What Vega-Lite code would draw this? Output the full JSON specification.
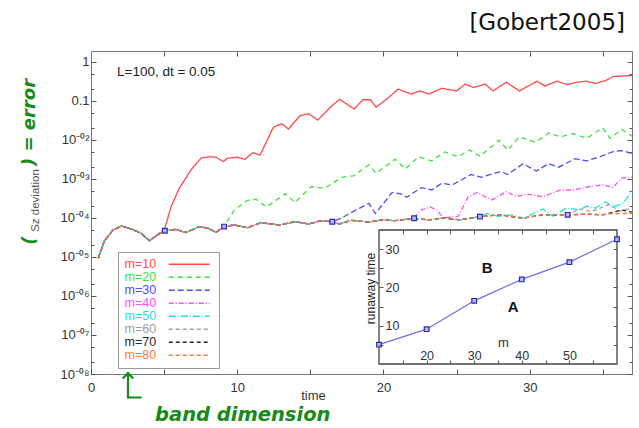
{
"$schema": "https://vega.github.io/schema/vega-lite/v6.json",
"width": 541, "height": 323,
"autosize": "none",
"padding": {"left": 91, "top": 51, "right": 7, "bottom": 54},
"background": "white",
"title": {"text": "[Gobert2005]", "anchor": "end", "frame": "group", "fontSize": 23, "font": "DejaVu Sans", "fontWeight": "normal", "color": "#111", "offset": 22, "baseline": "alphabetic", "dx": -7, "dy": 24},
"config": {
  "font": "Liberation Sans",
  "view": {"stroke": "#777", "strokeWidth": 1},
  "axis": {"tickColor": "#555", "grid": false, "domain": false, "labelFont": "Liberation Sans", "labelColor": "#333", "labelFlush": false, "labelOverlap": false}
},
"datasets": {
"runaway": [
{"m":10,"rt":5.05,"v":4.7e-5},{"m":20,"rt":9.1,"v":6.0e-5},{"m":30,"rt":16.5,"v":8.0e-5},{"m":40,"rt":22.1,"v":9.8e-5},{"m":50,"rt":26.6,"v":1.08e-4},{"m":60,"rt":32.6,"v":1.2e-4}
],
"curves": [
{"s":"m=10","t":0.5,"v":9.3e-6},{"s":"m=10","t":0.9,"v":2.5e-5},{"s":"m=10","t":1.5,"v":4.9e-5},{"s":"m=10","t":2.1,"v":6.2e-5},{"s":"m=10","t":2.75,"v":5.2e-5},{"s":"m=10","t":3.4,"v":4.1e-5},{"s":"m=10","t":4.0,"v":2.6e-5},{"s":"m=10","t":4.55,"v":3.7e-5},{"s":"m=10","t":5.0,"v":4.7e-5},
{"s":"m=10","t":5.47,"v":1.9e-4},{"s":"m=10","t":6.04,"v":5.8e-4},{"s":"m=10","t":6.84,"v":1.7e-3},{"s":"m=10","t":7.52,"v":3.4e-3},{"s":"m=10","t":8.09,"v":3.7e-3},{"s":"m=10","t":8.55,"v":3.6e-3},{"s":"m=10","t":9.05,"v":2.8e-3},{"s":"m=10","t":9.35,"v":3.4e-3},{"s":"m=10","t":10.03,"v":3.6e-3},{"s":"m=10","t":10.53,"v":3.2e-3},{"s":"m=10","t":11.06,"v":4.7e-3},{"s":"m=10","t":11.56,"v":4.1e-3},{"s":"m=10","t":12.47,"v":2.1e-2},{"s":"m=10","t":13.04,"v":2.6e-2},{"s":"m=10","t":13.5,"v":1.9e-2},{"s":"m=10","t":14.3,"v":4.2e-2},{"s":"m=10","t":14.9,"v":4.7e-2},{"s":"m=10","t":15.5,"v":3.2e-2},{"s":"m=10","t":16.35,"v":6.8e-2},{"s":"m=10","t":17.0,"v":0.11},{"s":"m=10","t":18.0,"v":6.2e-2},{"s":"m=10","t":18.6,"v":0.107},{"s":"m=10","t":19.1,"v":0.107},{"s":"m=10","t":19.5,"v":6.9e-2},{"s":"m=10","t":20.3,"v":0.117},{"s":"m=10","t":21.0,"v":0.2},{"s":"m=10","t":21.9,"v":0.15},{"s":"m=10","t":22.5,"v":0.18},{"s":"m=10","t":23.1,"v":0.15},{"s":"m=10","t":24.0,"v":0.21},{"s":"m=10","t":25.0,"v":0.18},{"s":"m=10","t":25.6,"v":0.27},{"s":"m=10","t":26.15,"v":0.22},{"s":"m=10","t":26.95,"v":0.27},{"s":"m=10","t":27.5,"v":0.18},{"s":"m=10","t":28.4,"v":0.3},{"s":"m=10","t":29.3,"v":0.18},{"s":"m=10","t":30.5,"v":0.32},{"s":"m=10","t":31.05,"v":0.24},{"s":"m=10","t":31.85,"v":0.32},{"s":"m=10","t":32.6,"v":0.26},{"s":"m=10","t":33.2,"v":0.3},{"s":"m=10","t":33.9,"v":0.32},{"s":"m=10","t":34.5,"v":0.28},{"s":"m=10","t":35.2,"v":0.33},{"s":"m=10","t":35.7,"v":0.42},{"s":"m=10","t":37.0,"v":0.45},

{"s":"m=20","t":0.5,"v":9.3e-6},{"s":"m=20","t":0.9,"v":2.5e-5},{"s":"m=20","t":1.5,"v":4.9e-5},{"s":"m=20","t":2.1,"v":6.2e-5},{"s":"m=20","t":2.75,"v":5.2e-5},{"s":"m=20","t":3.4,"v":4.1e-5},{"s":"m=20","t":4.0,"v":2.6e-5},{"s":"m=20","t":4.55,"v":3.7e-5},{"s":"m=20","t":5.0,"v":4.7e-5},{"s":"m=20","t":5.8,"v":5.1e-5},{"s":"m=20","t":6.5,"v":4.2e-5},{"s":"m=20","t":7.4,"v":6.0e-5},{"s":"m=20","t":8.0,"v":5.5e-5},{"s":"m=20","t":8.55,"v":4.3e-5},{"s":"m=20","t":9.1,"v":6.0e-5},
{"s":"m=20","t":9.8,"v":1.6e-4},{"s":"m=20","t":10.7,"v":2.8e-4},{"s":"m=20","t":11.3,"v":3.0e-4},{"s":"m=20","t":12.0,"v":1.9e-4},{"s":"m=20","t":13.3,"v":4.2e-4},{"s":"m=20","t":13.95,"v":2.5e-4},{"s":"m=20","t":15.05,"v":6.3e-4},{"s":"m=20","t":16.0,"v":5.8e-4},{"s":"m=20","t":17.15,"v":1.1e-3},{"s":"m=20","t":17.95,"v":1.2e-3},{"s":"m=20","t":19.0,"v":2.3e-3},{"s":"m=20","t":19.5,"v":1.4e-3},{"s":"m=20","t":20.8,"v":3.2e-3},{"s":"m=20","t":21.5,"v":1.8e-3},{"s":"m=20","t":22.4,"v":3.7e-3},{"s":"m=20","t":23.3,"v":2.9e-3},{"s":"m=20","t":24.2,"v":4.9e-3},{"s":"m=20","t":25.1,"v":3.7e-3},{"s":"m=20","t":25.9,"v":5.5e-3},{"s":"m=20","t":26.6,"v":3.8e-3},{"s":"m=20","t":27.9,"v":9.8e-3},{"s":"m=20","t":28.5,"v":5.5e-3},{"s":"m=20","t":29.3,"v":1.2e-2},{"s":"m=20","t":30.4,"v":8.7e-3},{"s":"m=20","t":31.3,"v":1.5e-2},{"s":"m=20","t":32.1,"v":1.2e-2},{"s":"m=20","t":33.0,"v":1.45e-2},{"s":"m=20","t":33.9,"v":1.1e-2},{"s":"m=20","t":35.0,"v":2.05e-2},{"s":"m=20","t":35.5,"v":1.1e-2},{"s":"m=20","t":36.3,"v":1.85e-2},{"s":"m=20","t":37.0,"v":1.25e-2},

{"s":"m=30","t":0.5,"v":9.3e-6},{"s":"m=30","t":0.9,"v":2.5e-5},{"s":"m=30","t":1.5,"v":4.9e-5},{"s":"m=30","t":2.1,"v":6.2e-5},{"s":"m=30","t":2.75,"v":5.2e-5},{"s":"m=30","t":3.4,"v":4.1e-5},{"s":"m=30","t":4.0,"v":2.6e-5},{"s":"m=30","t":4.55,"v":3.7e-5},{"s":"m=30","t":5.0,"v":4.7e-5},{"s":"m=30","t":5.8,"v":5.1e-5},{"s":"m=30","t":6.5,"v":4.2e-5},{"s":"m=30","t":7.4,"v":6.0e-5},{"s":"m=30","t":8.0,"v":5.5e-5},{"s":"m=30","t":8.55,"v":4.3e-5},{"s":"m=30","t":9.1,"v":6.0e-5},{"s":"m=30","t":9.8,"v":6.6e-5},{"s":"m=30","t":10.7,"v":5.6e-5},{"s":"m=30","t":11.6,"v":7.5e-5},{"s":"m=30","t":12.9,"v":6.6e-5},{"s":"m=30","t":13.95,"v":8.0e-5},{"s":"m=30","t":14.9,"v":7.0e-5},{"s":"m=30","t":15.7,"v":8.4e-5},{"s":"m=30","t":16.5,"v":8.0e-5},
{"s":"m=30","t":17.15,"v":1.0e-4},{"s":"m=30","t":18.05,"v":1.55e-4},{"s":"m=30","t":19.0,"v":2.35e-4},{"s":"m=30","t":19.45,"v":1.3e-4},{"s":"m=30","t":20.6,"v":4.5e-4},{"s":"m=30","t":21.25,"v":4.1e-4},{"s":"m=30","t":21.6,"v":3.4e-4},{"s":"m=30","t":22.6,"v":6.0e-4},{"s":"m=30","t":23.3,"v":5.2e-4},{"s":"m=30","t":24.0,"v":7.8e-4},{"s":"m=30","t":24.7,"v":7.0e-4},{"s":"m=30","t":26.0,"v":1.3e-3},{"s":"m=30","t":26.7,"v":1.1e-3},{"s":"m=30","t":28.0,"v":1.55e-3},{"s":"m=30","t":28.5,"v":1.3e-3},{"s":"m=30","t":29.55,"v":2.45e-3},{"s":"m=30","t":30.45,"v":1.6e-3},{"s":"m=30","t":31.3,"v":2.45e-3},{"s":"m=30","t":32.0,"v":2.0e-3},{"s":"m=30","t":33.1,"v":3.3e-3},{"s":"m=30","t":33.9,"v":2.9e-3},{"s":"m=30","t":34.8,"v":3.7e-3},{"s":"m=30","t":35.7,"v":5.0e-3},{"s":"m=30","t":36.3,"v":5.3e-3},{"s":"m=30","t":37.0,"v":4.5e-3},

{"s":"m=40","t":0.5,"v":9.3e-6},{"s":"m=40","t":0.9,"v":2.5e-5},{"s":"m=40","t":1.5,"v":4.9e-5},{"s":"m=40","t":2.1,"v":6.2e-5},{"s":"m=40","t":2.75,"v":5.2e-5},{"s":"m=40","t":3.4,"v":4.1e-5},{"s":"m=40","t":4.0,"v":2.6e-5},{"s":"m=40","t":4.55,"v":3.7e-5},{"s":"m=40","t":5.0,"v":4.7e-5},{"s":"m=40","t":5.8,"v":5.1e-5},{"s":"m=40","t":6.5,"v":4.2e-5},{"s":"m=40","t":7.4,"v":6.0e-5},{"s":"m=40","t":8.0,"v":5.5e-5},{"s":"m=40","t":8.55,"v":4.3e-5},{"s":"m=40","t":9.1,"v":6.0e-5},{"s":"m=40","t":9.8,"v":6.6e-5},{"s":"m=40","t":10.7,"v":5.6e-5},{"s":"m=40","t":11.6,"v":7.5e-5},{"s":"m=40","t":12.9,"v":6.6e-5},{"s":"m=40","t":13.95,"v":8.0e-5},{"s":"m=40","t":14.9,"v":7.0e-5},{"s":"m=40","t":15.7,"v":8.4e-5},{"s":"m=40","t":16.5,"v":8.0e-5},{"s":"m=40","t":17.0,"v":7.0e-5},{"s":"m=40","t":17.8,"v":8.7e-5},{"s":"m=40","t":19.0,"v":7.8e-5},{"s":"m=40","t":19.9,"v":8.9e-5},{"s":"m=40","t":20.8,"v":8.5e-5},{"s":"m=40","t":22.05,"v":9.8e-5},
{"s":"m=40","t":22.6,"v":1.6e-4},{"s":"m=40","t":23.2,"v":1.9e-4},{"s":"m=40","t":23.65,"v":1.6e-4},{"s":"m=40","t":24.1,"v":1.0e-4},{"s":"m=40","t":25.1,"v":1.1e-4},{"s":"m=40","t":25.8,"v":3.5e-4},{"s":"m=40","t":26.4,"v":4.5e-4},{"s":"m=40","t":27.4,"v":2.9e-4},{"s":"m=40","t":28.4,"v":4.7e-4},{"s":"m=40","t":29.1,"v":3.5e-4},{"s":"m=40","t":29.8,"v":4.1e-4},{"s":"m=40","t":30.9,"v":3.5e-4},{"s":"m=40","t":32.1,"v":5.2e-4},{"s":"m=40","t":33.0,"v":5.2e-4},{"s":"m=40","t":34.0,"v":6.3e-4},{"s":"m=40","t":35.0,"v":7.0e-4},{"s":"m=40","t":35.7,"v":6.1e-4},{"s":"m=40","t":36.3,"v":1.05e-3},{"s":"m=40","t":37.0,"v":1.1e-3},

{"s":"m=50","t":0.5,"v":9.3e-6},{"s":"m=50","t":0.9,"v":2.5e-5},{"s":"m=50","t":1.5,"v":4.9e-5},{"s":"m=50","t":2.1,"v":6.2e-5},{"s":"m=50","t":2.75,"v":5.2e-5},{"s":"m=50","t":3.4,"v":4.1e-5},{"s":"m=50","t":4.0,"v":2.6e-5},{"s":"m=50","t":4.55,"v":3.7e-5},{"s":"m=50","t":5.0,"v":4.7e-5},{"s":"m=50","t":5.8,"v":5.1e-5},{"s":"m=50","t":6.5,"v":4.2e-5},{"s":"m=50","t":7.4,"v":6.0e-5},{"s":"m=50","t":8.0,"v":5.5e-5},{"s":"m=50","t":8.55,"v":4.3e-5},{"s":"m=50","t":9.1,"v":6.0e-5},{"s":"m=50","t":9.8,"v":6.6e-5},{"s":"m=50","t":10.7,"v":5.6e-5},{"s":"m=50","t":11.6,"v":7.5e-5},{"s":"m=50","t":12.9,"v":6.6e-5},{"s":"m=50","t":13.95,"v":8.0e-5},{"s":"m=50","t":14.9,"v":7.0e-5},{"s":"m=50","t":15.7,"v":8.4e-5},{"s":"m=50","t":16.5,"v":8.0e-5},{"s":"m=50","t":17.0,"v":7.0e-5},{"s":"m=50","t":17.8,"v":8.7e-5},{"s":"m=50","t":19.0,"v":7.8e-5},{"s":"m=50","t":19.9,"v":8.9e-5},{"s":"m=50","t":20.8,"v":8.5e-5},{"s":"m=50","t":22.05,"v":9.8e-5},{"s":"m=50","t":23.1,"v":8.9e-5},{"s":"m=50","t":24.1,"v":1.0e-4},{"s":"m=50","t":25.2,"v":8.9e-5},{"s":"m=50","t":26.6,"v":1.08e-4},
{"s":"m=50","t":27.1,"v":1.3e-4},{"s":"m=50","t":27.9,"v":1.1e-4},{"s":"m=50","t":28.8,"v":1.2e-4},{"s":"m=50","t":29.6,"v":9.8e-5},{"s":"m=50","t":30.9,"v":1.7e-4},{"s":"m=50","t":31.6,"v":1.1e-4},{"s":"m=50","t":32.5,"v":1.8e-4},{"s":"m=50","t":33.4,"v":1.6e-4},{"s":"m=50","t":33.9,"v":2.0e-4},{"s":"m=50","t":34.5,"v":1.8e-4},{"s":"m=50","t":35.2,"v":2.6e-4},{"s":"m=50","t":35.7,"v":1.9e-4},{"s":"m=50","t":36.4,"v":2.4e-4},{"s":"m=50","t":37.0,"v":5.0e-4},

{"s":"m=60","t":0.5,"v":9.3e-6},{"s":"m=60","t":0.9,"v":2.5e-5},{"s":"m=60","t":1.5,"v":4.9e-5},{"s":"m=60","t":2.1,"v":6.2e-5},{"s":"m=60","t":2.75,"v":5.2e-5},{"s":"m=60","t":3.4,"v":4.1e-5},{"s":"m=60","t":4.0,"v":2.6e-5},{"s":"m=60","t":4.55,"v":3.7e-5},{"s":"m=60","t":5.0,"v":4.7e-5},{"s":"m=60","t":5.8,"v":5.1e-5},{"s":"m=60","t":6.5,"v":4.2e-5},{"s":"m=60","t":7.4,"v":6.0e-5},{"s":"m=60","t":8.0,"v":5.5e-5},{"s":"m=60","t":8.55,"v":4.3e-5},{"s":"m=60","t":9.1,"v":6.0e-5},{"s":"m=60","t":9.8,"v":6.6e-5},{"s":"m=60","t":10.7,"v":5.6e-5},{"s":"m=60","t":11.6,"v":7.5e-5},{"s":"m=60","t":12.9,"v":6.6e-5},{"s":"m=60","t":13.95,"v":8.0e-5},{"s":"m=60","t":14.9,"v":7.0e-5},{"s":"m=60","t":15.7,"v":8.4e-5},{"s":"m=60","t":16.5,"v":8.0e-5},{"s":"m=60","t":17.0,"v":7.0e-5},{"s":"m=60","t":17.8,"v":8.7e-5},{"s":"m=60","t":19.0,"v":7.8e-5},{"s":"m=60","t":19.9,"v":8.9e-5},{"s":"m=60","t":20.8,"v":8.5e-5},{"s":"m=60","t":22.05,"v":9.8e-5},{"s":"m=60","t":23.1,"v":8.9e-5},{"s":"m=60","t":24.1,"v":1.0e-4},{"s":"m=60","t":25.2,"v":8.9e-5},{"s":"m=60","t":26.6,"v":1.08e-4},{"s":"m=60","t":28.0,"v":1.2e-4},{"s":"m=60","t":29.5,"v":9.8e-5},{"s":"m=60","t":30.9,"v":1.2e-4},{"s":"m=60","t":32.6,"v":1.2e-4},
{"s":"m=60","t":33.4,"v":1.7e-4},{"s":"m=60","t":34.2,"v":1.45e-4},{"s":"m=60","t":35.4,"v":2.2e-4},{"s":"m=60","t":36.2,"v":1.5e-4},{"s":"m=60","t":37.0,"v":1.8e-4},

{"s":"m=70","t":0.5,"v":9.3e-6},{"s":"m=70","t":0.9,"v":2.5e-5},{"s":"m=70","t":1.5,"v":4.9e-5},{"s":"m=70","t":2.1,"v":6.2e-5},{"s":"m=70","t":2.75,"v":5.2e-5},{"s":"m=70","t":3.4,"v":4.1e-5},{"s":"m=70","t":4.0,"v":2.6e-5},{"s":"m=70","t":4.55,"v":3.7e-5},{"s":"m=70","t":5.0,"v":4.7e-5},{"s":"m=70","t":5.8,"v":5.1e-5},{"s":"m=70","t":6.5,"v":4.2e-5},{"s":"m=70","t":7.4,"v":6.0e-5},{"s":"m=70","t":8.0,"v":5.5e-5},{"s":"m=70","t":8.55,"v":4.3e-5},{"s":"m=70","t":9.1,"v":6.0e-5},{"s":"m=70","t":9.8,"v":6.6e-5},{"s":"m=70","t":10.7,"v":5.6e-5},{"s":"m=70","t":11.6,"v":7.5e-5},{"s":"m=70","t":12.9,"v":6.6e-5},{"s":"m=70","t":13.95,"v":8.0e-5},{"s":"m=70","t":14.9,"v":7.0e-5},{"s":"m=70","t":15.7,"v":8.4e-5},{"s":"m=70","t":16.5,"v":8.0e-5},{"s":"m=70","t":17.0,"v":7.0e-5},{"s":"m=70","t":17.8,"v":8.7e-5},{"s":"m=70","t":19.0,"v":7.8e-5},{"s":"m=70","t":19.9,"v":8.9e-5},{"s":"m=70","t":20.8,"v":8.5e-5},{"s":"m=70","t":22.05,"v":9.8e-5},{"s":"m=70","t":23.1,"v":8.9e-5},{"s":"m=70","t":24.1,"v":1.0e-4},{"s":"m=70","t":25.2,"v":8.9e-5},{"s":"m=70","t":26.6,"v":1.08e-4},{"s":"m=70","t":28.0,"v":1.2e-4},{"s":"m=70","t":29.5,"v":9.8e-5},{"s":"m=70","t":30.9,"v":1.2e-4},{"s":"m=70","t":32.6,"v":1.2e-4},{"s":"m=70","t":33.9,"v":1.25e-4},{"s":"m=70","t":35.0,"v":1.2e-4},
{"s":"m=70","t":35.7,"v":1.4e-4},{"s":"m=70","t":36.3,"v":1.6e-4},{"s":"m=70","t":37.0,"v":1.4e-4},

{"s":"m=80","t":0.5,"v":9.3e-6},{"s":"m=80","t":0.9,"v":2.5e-5},{"s":"m=80","t":1.5,"v":4.9e-5},{"s":"m=80","t":2.1,"v":6.2e-5},{"s":"m=80","t":2.75,"v":5.2e-5},{"s":"m=80","t":3.4,"v":4.1e-5},{"s":"m=80","t":4.0,"v":2.6e-5},{"s":"m=80","t":4.55,"v":3.7e-5},{"s":"m=80","t":5.0,"v":4.7e-5},{"s":"m=80","t":5.8,"v":5.1e-5},{"s":"m=80","t":6.5,"v":4.2e-5},{"s":"m=80","t":7.4,"v":6.0e-5},{"s":"m=80","t":8.0,"v":5.5e-5},{"s":"m=80","t":8.55,"v":4.3e-5},{"s":"m=80","t":9.1,"v":6.0e-5},{"s":"m=80","t":9.8,"v":6.6e-5},{"s":"m=80","t":10.7,"v":5.6e-5},{"s":"m=80","t":11.6,"v":7.5e-5},{"s":"m=80","t":12.9,"v":6.6e-5},{"s":"m=80","t":13.95,"v":8.0e-5},{"s":"m=80","t":14.9,"v":7.0e-5},{"s":"m=80","t":15.7,"v":8.4e-5},{"s":"m=80","t":16.5,"v":8.0e-5},{"s":"m=80","t":17.0,"v":7.0e-5},{"s":"m=80","t":17.8,"v":8.7e-5},{"s":"m=80","t":19.0,"v":7.8e-5},{"s":"m=80","t":19.9,"v":8.9e-5},{"s":"m=80","t":20.8,"v":8.5e-5},{"s":"m=80","t":22.05,"v":9.8e-5},{"s":"m=80","t":23.1,"v":8.9e-5},{"s":"m=80","t":24.1,"v":1.0e-4},{"s":"m=80","t":25.2,"v":8.9e-5},{"s":"m=80","t":26.6,"v":1.08e-4},{"s":"m=80","t":28.0,"v":1.2e-4},{"s":"m=80","t":29.5,"v":9.8e-5},{"s":"m=80","t":30.9,"v":1.2e-4},{"s":"m=80","t":32.6,"v":1.2e-4},{"s":"m=80","t":33.9,"v":1.25e-4},{"s":"m=80","t":35.0,"v":1.2e-4},{"s":"m=80","t":35.7,"v":1.3e-4},{"s":"m=80","t":37.0,"v":1.3e-4}
]
},
"layer": [
{
  "layer": [
    {
      "data": {"name": "curves"},
      "mark": {"type": "line", "strokeWidth": 1.3},
      "encoding": {
        "x": {"field": "t", "type": "quantitative",
              "scale": {"domain": [0, 37], "nice": false, "zero": false},
              "axis": {"orient": "bottom", "values": [0,5,10,15,20,25,30,35], "labelExpr": "datum.value % 10 === 0 ? datum.label : ''", "tickSize": -5, "labelPadding": 12, "labelFontSize": 13, "title": "time", "titleX": 222, "titleY": 21, "titleBaseline": "middle", "titleAlign": "center", "titleFontSize": 13, "titleFontWeight": "normal", "titleColor": "#333"}},
        "y": {"field": "v", "type": "quantitative",
              "scale": {"type": "log", "domain": [1e-8, 1.9], "nice": false},
              "axis": {"orient": "left", "values": [1e-8,1e-7,1e-6,1e-5,1e-4,1e-3,0.01,0.1,1], "labelExpr": "datum.value > 0.5 ? '1\u00a0\u00a0' : datum.value > 0.05 ? '0.1\u00a0\u00a0' : '10⁻⁰' + ['','','²','³','⁴','⁵','⁶','⁷','⁸'][round(-log(datum.value)/LN10)]", "tickSize": -5, "labelPadding": 7, "labelFontSize": 13, "title": "Sz deviation", "titleX": -56, "titleY": 149, "titleAngle": 270, "titleBaseline": "middle", "titleAlign": "center", "titleFontSize": 11.5, "titleFontWeight": "normal", "titleColor": "#555"}},
        "color": {"field": "s", "type": "nominal",
          "scale": {"domain": ["m=10","m=20","m=30","m=40","m=50","m=60","m=70","m=80"], "range": ["#ff4a4a","#3fe03f","#4d4df0","#ff4dff","#25e0e0","#a0a0a0","#2a2a2a","#ff7a35"]},
          "legend": {"orient": "none", "legendX": 27, "legendY": 201, "title": null, "fillColor": "white", "strokeColor": "#999", "padding": 6, "rowPadding": 0, "labelFontSize": 12.5, "labelFont": "Liberation Sans", "symbolType": "M-4,0L4,0", "symbolSize": 105, "symbolStrokeWidth": 1.3, "symbolOffset": 59, "labelOffset": -71,
            "encoding": {"labels": {"fill": {"condition": [
              {"test": "datum.value === 'm=10'", "value": "#ff4a4a"},
              {"test": "datum.value === 'm=20'", "value": "#3fe03f"},
              {"test": "datum.value === 'm=30'", "value": "#4d4df0"},
              {"test": "datum.value === 'm=40'", "value": "#ff4dff"},
              {"test": "datum.value === 'm=50'", "value": "#25e0e0"},
              {"test": "datum.value === 'm=60'", "value": "#a0a0a0"},
              {"test": "datum.value === 'm=70'", "value": "#2a2a2a"},
              {"test": "datum.value === 'm=80'", "value": "#ff7a35"}], "value": "#000"}}}}},
        "strokeDash": {"field": "s", "type": "nominal",
          "scale": {"domain": ["m=10","m=20","m=30","m=40","m=50","m=60","m=70","m=80"], "range": [[1,0],[5,4],[6,3],[5,2,1,2],[7,2,1,2],[4,3],[4,3],[4,3]]},
          "legend": {"orient": "none", "legendX": 27, "legendY": 201, "title": null}}
      }
    },
    {
      "data": {"name": "runaway"},
      "mark": {"type": "point", "shape": "square", "filled": true, "size": 22, "fill": "#b8b8ff", "stroke": "#2b2ba8", "strokeWidth": 1.2, "opacity": 1},
      "encoding": {
        "x": {"field": "rt", "type": "quantitative", "axis": {"orient": "top", "values": [5,10,15,20,25,30,35], "tickSize": -5, "labels": false, "title": null}},
        "y": {"field": "v", "type": "quantitative", "axis": {"orient": "right", "values": [1e-8,1e-7,1e-6,1e-5,1e-4,1e-3,0.01,0.1,1], "tickSize": -5, "labels": false, "title": null}}
      }
    },
    {
      "data": {"values": [{}]},
      "mark": {"type": "text", "text": "L=100, dt = 0.05", "align": "left", "baseline": "middle", "fontSize": 13.5, "color": "#222"},
      "encoding": {
        "x": {"datum": 1.78, "axis": null},
        "y": {"datum": 0.555, "axis": {"orient": "left", "values": [2e-8,5e-8,2e-7,5e-7,2e-6,5e-6,2e-5,5e-5,2e-4,5e-4,2e-3,5e-3,0.02,0.05,0.2,0.5], "tickSize": -3, "labels": false, "title": null}}
      }
    },
    {
      "data": {"values": [{}]},
      "mark": {"type": "text", "text": ") = error", "angle": 270, "align": "center", "baseline": "middle", "fontSize": 18, "font": "DejaVu Sans", "fontStyle": "italic", "fontWeight": "bold", "color": "#178a17"},
      "encoding": {
        "x": {"datum": -4.17, "axis": null},
        "y": {"datum": 0.028, "axis": {"orient": "right", "values": [2e-8,5e-8,2e-7,5e-7,2e-6,5e-6,2e-5,5e-5,2e-4,5e-4,2e-3,5e-3,0.02,0.05,0.2,0.5], "tickSize": -3, "labels": false, "title": null}}
      }
    },
    {
      "data": {"values": [{}]},
      "mark": {"type": "text", "text": "(", "angle": 270, "align": "center", "baseline": "middle", "fontSize": 18, "font": "DejaVu Sans", "fontStyle": "italic", "fontWeight": "bold", "color": "#178a17"},
      "encoding": {"x": {"datum": -4.17, "axis": null}, "y": {"datum": 2.6e-5, "axis": null}}
    },
    {
      "data": {"values": [{}]},
      "mark": {"type": "text", "text": "band dimension", "align": "left", "baseline": "middle", "fontSize": 19.5, "font": "DejaVu Sans", "fontStyle": "italic", "fontWeight": "bold", "color": "#178a17"},
      "encoding": {"x": {"datum": 4.38, "axis": null}, "y": {"datum": 8.9e-10, "axis": null}}
    },
    {
      "data": {"values": [{}]},
      "mark": {"type": "rule", "color": "#178a17", "strokeWidth": 2.2, "strokeCap": "round"},
      "encoding": {"x": {"datum": 2.53, "axis": null}, "y": {"datum": 1.05e-8, "axis": null}, "y2": {"datum": 2.5e-9}}
    },
    {
      "data": {"values": [{}]},
      "mark": {"type": "rule", "color": "#178a17", "strokeWidth": 2.2, "strokeCap": "round"},
      "encoding": {"x": {"datum": 2.53, "axis": null}, "x2": {"datum": 3.4}, "y": {"datum": 2.5e-9, "axis": null}}
    },
    {
      "data": {"values": [{}]},
      "mark": {"type": "point", "shape": "M-1,1L0,0L1,1", "filled": false, "stroke": "#178a17", "strokeWidth": 2.2, "size": 110, "opacity": 1},
      "encoding": {"x": {"datum": 2.53, "axis": null}, "y": {"datum": 1.05e-8, "axis": null}}
    }
  ],
  "resolve": {"axis": {"x": "independent", "y": "independent"}}
},
{
  "data": {"name": "runaway"},
  "layer": [
    {
      "data": {"values": [{}]},
      "mark": {"type": "rect", "fill": "white", "stroke": "#444", "strokeWidth": 1.3},
      "encoding": {
        "x": {"datum": 10, "type": "quantitative", "scale": {"domain": [10, 60], "range": [288, 526], "nice": false, "zero": false},
              "axis": {"orient": "bottom", "offset": -10, "zindex": 2, "values": [15,20,25,30,35,40,45,50,55], "labelExpr": "datum.value % 10 === 0 ? datum.label : ''", "tickSize": -4, "labelPadding": -1, "labelBaseline": "alphabetic", "labelFontSize": 12.5, "labelColor": "#333", "title": "m", "titleX": 412, "titleY": -22, "titleBaseline": "middle", "titleAlign": "center", "titleFontSize": 13, "titleFontWeight": "normal", "titleColor": "#333"}},
        "x2": {"datum": 60},
        "y": {"datum": 0, "type": "quantitative", "scale": {"domain": [0, 35], "range": [313, 179], "nice": false, "zero": false},
              "axis": {"orient": "left", "offset": -288, "zindex": 2, "values": [5,10,15,20,25,30], "labelExpr": "datum.value % 10 === 0 ? datum.label : ''", "tickSize": -4, "labelPadding": -2, "labelAlign": "left", "labelBaseline": "middle", "labelFontSize": 12.5, "labelColor": "#333", "title": "runaway time", "titleX": -9, "titleY": 237, "titleAngle": 270, "titleBaseline": "middle", "titleAlign": "center", "titleFontSize": 12, "titleFontWeight": "normal", "titleColor": "#222"}},
        "y2": {"datum": 35}
      }
    },
    {
      "mark": {"type": "line", "color": "#6f6fe0", "strokeWidth": 1.2},
      "encoding": {
        "x": {"field": "m", "type": "quantitative", "axis": {"orient": "top", "offset": -179, "zindex": 2, "values": [15,20,25,30,35,40,45,50,55], "tickSize": -4, "labels": false, "title": null}},
        "y": {"field": "rt", "type": "quantitative", "axis": {"orient": "right", "offset": -15, "zindex": 2, "values": [5,10,15,20,25,30], "tickSize": -4, "labels": false, "title": null}}
      }
    },
    {
      "mark": {"type": "point", "shape": "square", "filled": true, "size": 22, "fill": "#b8b8ff", "stroke": "#2b2ba8", "strokeWidth": 1.2, "opacity": 1},
      "encoding": {
        "x": {"field": "m", "type": "quantitative", "axis": null},
        "y": {"field": "rt", "type": "quantitative", "axis": null}
      }
    },
    {
      "data": {"values": [{}]},
      "mark": {"type": "text", "text": "B", "fontSize": 15, "fontWeight": "bold", "align": "center", "baseline": "middle", "color": "#111"},
      "encoding": {"x": {"datum": 32.7, "axis": null}, "y": {"datum": 25.1, "axis": null}}
    },
    {
      "data": {"values": [{}]},
      "mark": {"type": "text", "text": "A", "fontSize": 15, "fontWeight": "bold", "align": "center", "baseline": "middle", "color": "#111"},
      "encoding": {"x": {"datum": 38.2, "axis": null}, "y": {"datum": 14.9, "axis": null}}
    }
  ],
  "resolve": {"axis": {"x": "independent", "y": "independent"}}
}
],
"resolve": {"scale": {"x": "independent", "y": "independent"}}
}
